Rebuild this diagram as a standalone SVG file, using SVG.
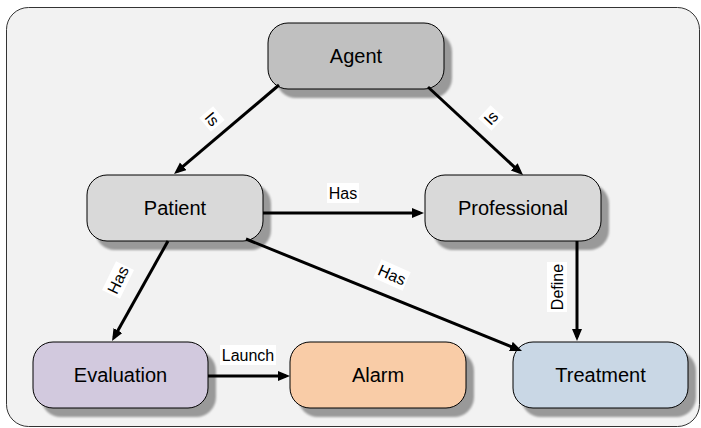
<svg xmlns="http://www.w3.org/2000/svg" width="701" height="428" viewBox="0 0 701 428">
<style>
.node{stroke:#000;stroke-width:1}
.nt{font-family:"Liberation Sans",Arial,sans-serif;font-size:20px;fill:#000;text-anchor:middle}
.lt{font-family:"Liberation Sans",Arial,sans-serif;font-size:16px;fill:#000;text-anchor:middle}
.lb{fill:#fff}
.edge{stroke:#000;stroke-width:3;fill:none;marker-end:url(#arr)}
</style>
<defs>
<marker id="arr" markerUnits="userSpaceOnUse" markerWidth="14" markerHeight="12" refX="8" refY="5" orient="auto">
<path d="M0,0 L12,5 L0,10 z" fill="#000"/>
</marker>
<filter id="sh" x="-10%" y="-10%" width="130%" height="140%">
<feGaussianBlur stdDeviation="1.2"/>
</filter>
</defs>
<rect x="6.5" y="7.5" width="693" height="419" rx="22" fill="#f2f2f2" stroke="#333" stroke-width="1"/>

<g id="agent">
<rect x="276" y="32" width="176" height="66" rx="20" fill="#999" filter="url(#sh)"/>
<rect class="node" x="268" y="23" width="176" height="66" rx="20" fill="#c0c0c0"/>
<text class="nt" x="356" y="63">Agent</text>
</g>
<g id="patient">
<rect x="95" y="184" width="176" height="66" rx="20" fill="#999" filter="url(#sh)"/>
<rect class="node" x="87" y="175" width="176" height="66" rx="20" fill="#d9d9d9"/>
<text class="nt" x="175" y="215">Patient</text>
</g>
<g id="professional">
<rect x="433" y="184" width="176" height="66" rx="20" fill="#999" filter="url(#sh)"/>
<rect class="node" x="425" y="175" width="176" height="66" rx="20" fill="#d9d9d9"/>
<text class="nt" x="513" y="215">Professional</text>
</g>
<g id="evaluation">
<rect x="41" y="351" width="175" height="66" rx="20" fill="#999" filter="url(#sh)"/>
<rect class="node" x="33" y="342" width="175" height="66" rx="20" fill="#d2c9de"/>
<text class="nt" x="120.5" y="382">Evaluation</text>
</g>
<g id="alarm">
<rect x="298" y="351" width="176" height="66" rx="20" fill="#999" filter="url(#sh)"/>
<rect class="node" x="290" y="342" width="176" height="66" rx="20" fill="#f9cca7"/>
<text class="nt" x="378" y="382">Alarm</text>
</g>
<g id="treatment">
<rect x="521" y="351" width="175" height="66" rx="20" fill="#999" filter="url(#sh)"/>
<rect class="node" x="513" y="342" width="175" height="66" rx="20" fill="#c9d7e5"/>
<text class="nt" x="600.5" y="382">Treatment</text>
</g>

<g id="connectors">
<line class="edge" x1="279" y1="85" x2="177.1" y2="171.4"/>
<line class="edge" x1="428" y1="87" x2="520.1" y2="172.3"/>
<line class="edge" x1="263" y1="213" x2="420" y2="213"/>
<line class="edge" x1="168" y1="241" x2="114" y2="337.5"/>
<line class="edge" x1="246" y1="239" x2="518.3" y2="349.5"/>
<line class="edge" x1="577" y1="241" x2="577" y2="337"/>
<line class="edge" x1="208" y1="376" x2="286" y2="376"/>

<g transform="translate(212,119) rotate(50)"><rect class="lb" x="-9" y="-9" width="18" height="18"/><text class="lt" y="5.5">Is</text></g>
<g transform="translate(491,118) rotate(-47)"><rect class="lb" x="-9" y="-9" width="18" height="18"/><text class="lt" y="5.5">Is</text></g>
<g transform="translate(343,193)"><rect class="lb" x="-16" y="-10" width="32" height="20"/><text class="lt" y="5.5">Has</text></g>
<g transform="translate(118,280) rotate(-64)"><rect class="lb" x="-16" y="-10" width="32" height="20"/><text class="lt" y="5.5">Has</text></g>
<g transform="translate(392,275) rotate(24)"><rect class="lb" x="-16" y="-10" width="32" height="20"/><text class="lt" y="5.5">Has</text></g>
<g transform="translate(557,287) rotate(-90)"><rect class="lb" x="-25" y="-10" width="50" height="20"/><text class="lt" y="5.5">Define</text></g>
<g transform="translate(248,355)"><rect class="lb" x="-28" y="-10" width="56" height="20"/><text class="lt" y="5.5">Launch</text></g>
</g>
</svg>
